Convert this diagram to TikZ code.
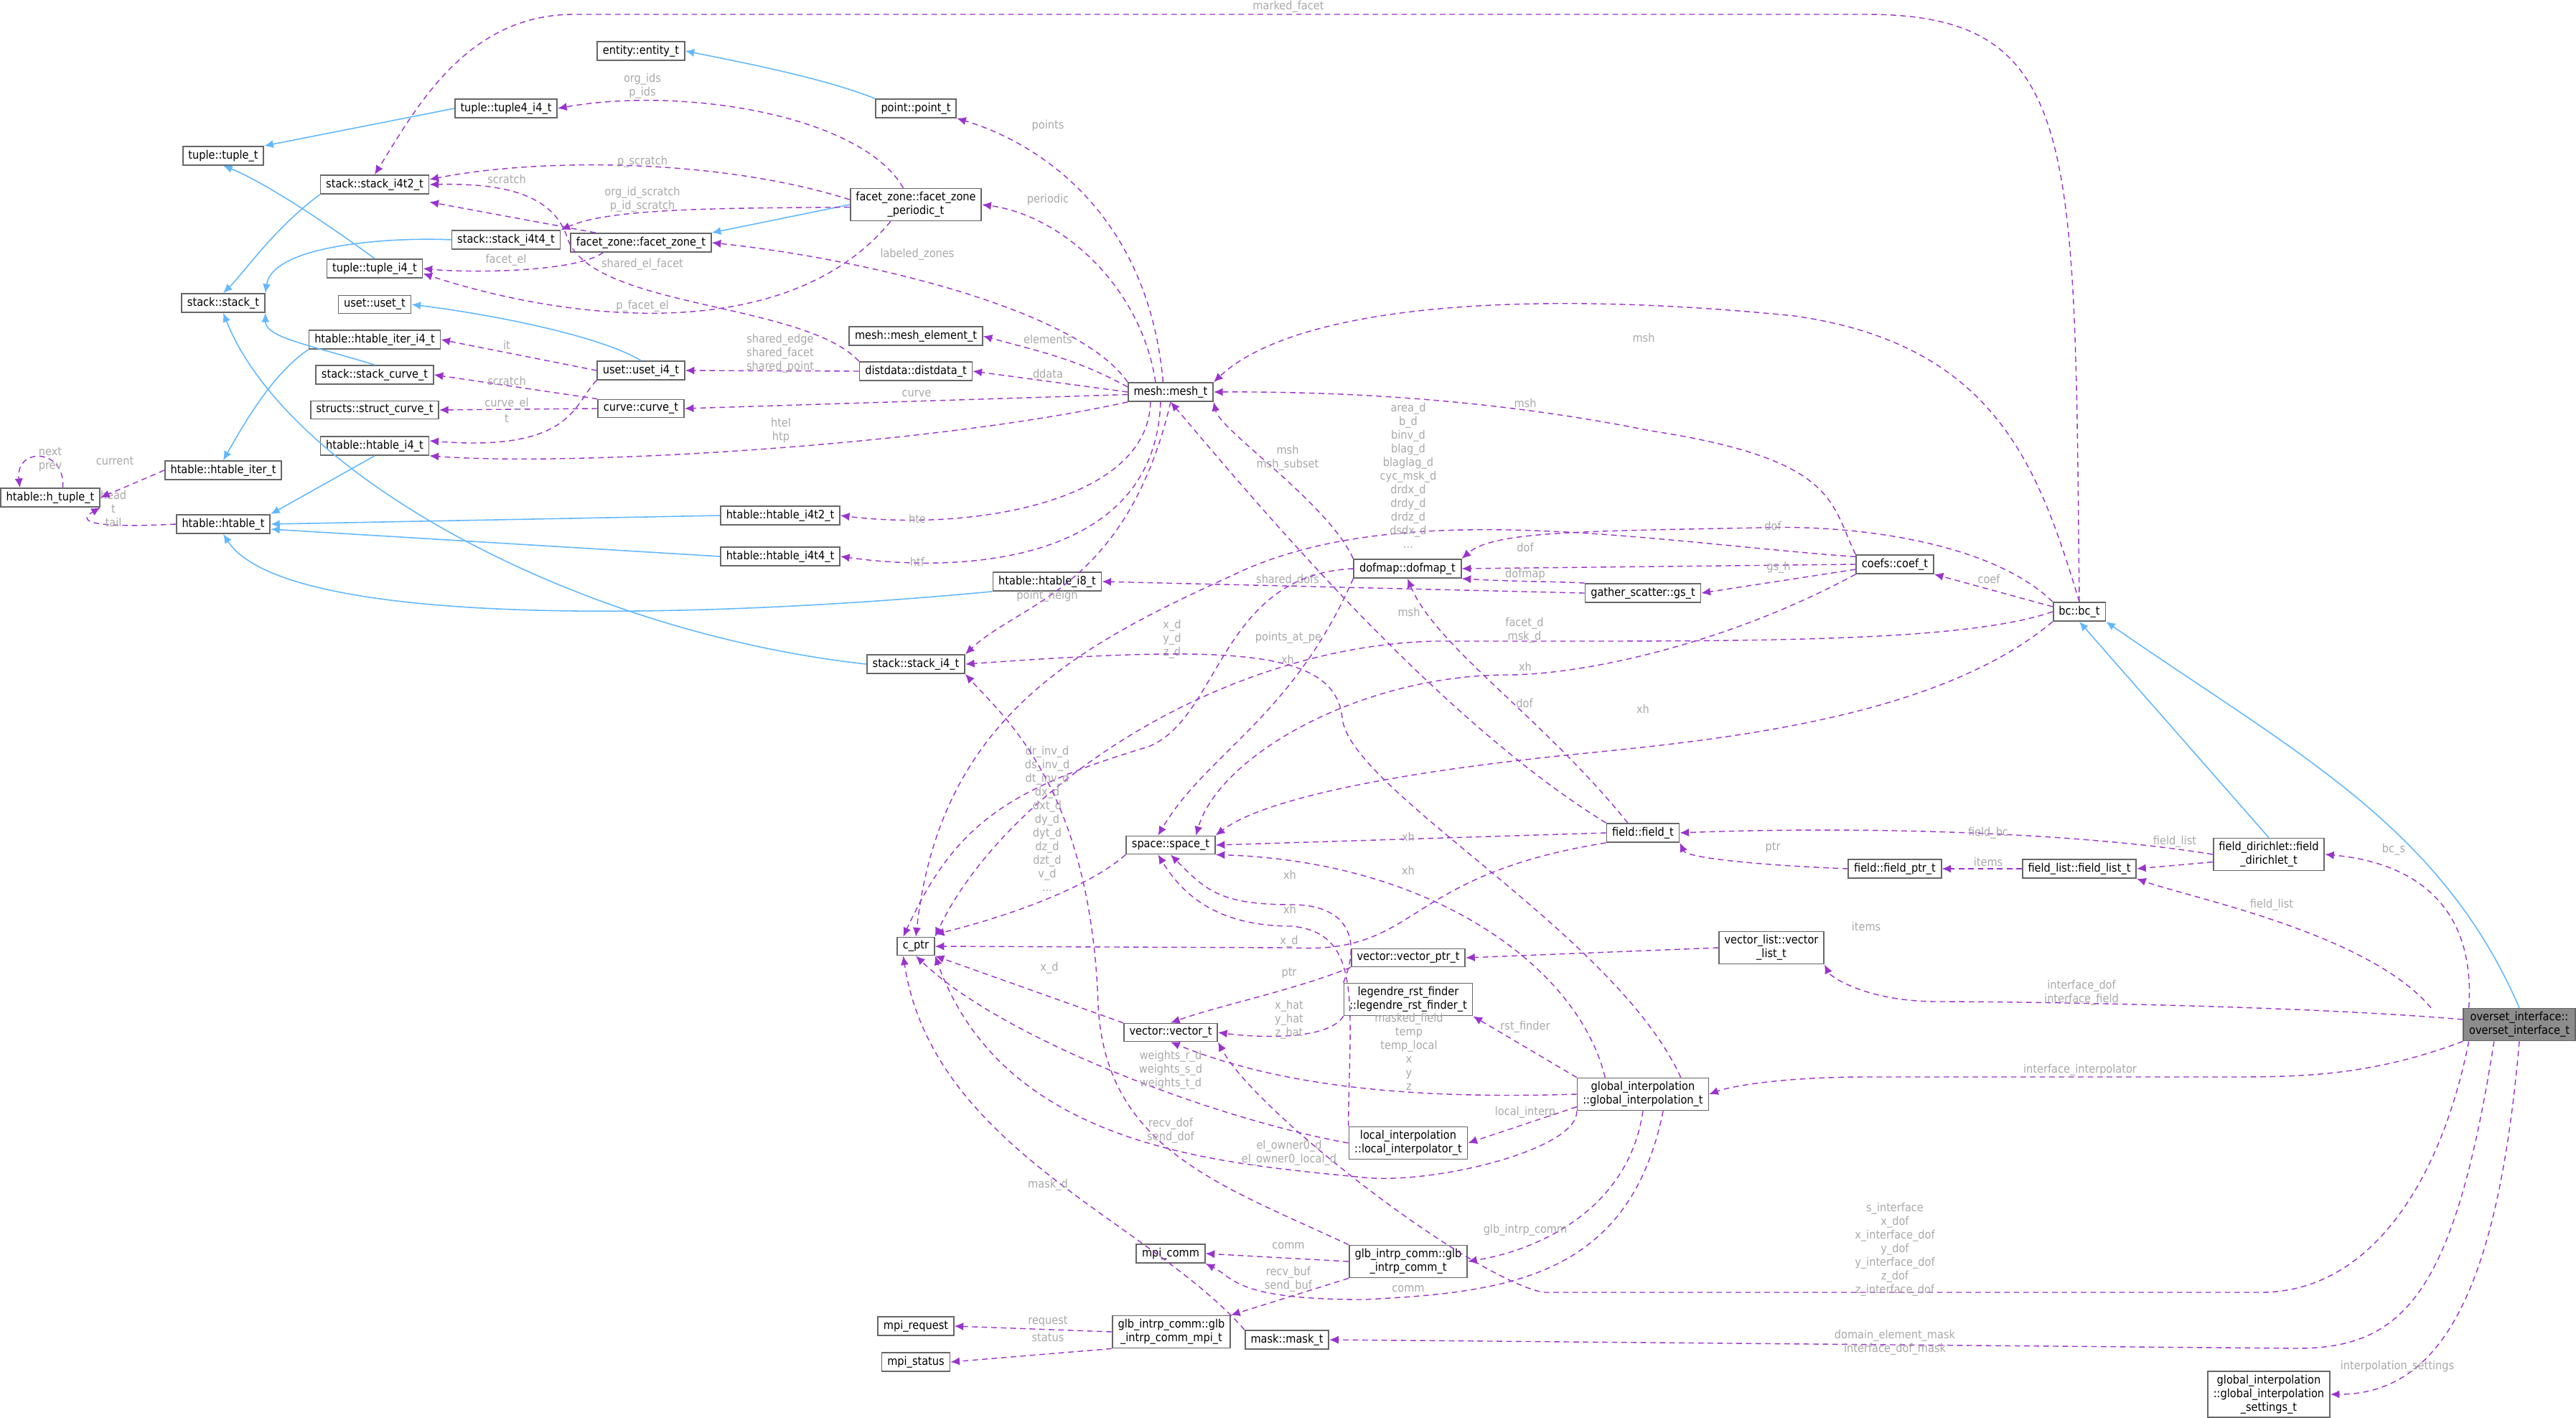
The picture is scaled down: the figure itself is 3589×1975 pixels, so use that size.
\documentclass[tikz,border=0pt]{standalone}
\usepackage{fontspec}
\setmainfont{DejaVu Sans Condensed}
\usetikzlibrary{arrows.meta}
\definecolor{mpurple}{HTML}{9A32CD}
\definecolor{mblue}{HTML}{63B8FF}
\definecolor{lblc}{HTML}{A8A8A8}
\begin{document}
\begin{tikzpicture}[x=0.01cm,y=-0.01cm,
 every node/.style={font=\fontsize{4.6}{5.4}\selectfont},
 box/.style={draw=black!60,fill=white,line width=0.5pt,inner xsep=2.2pt,inner ysep=1.4pt,minimum height=0.25cm,align=center},
 lbl/.style={text=lblc,inner sep=0pt,align=center},
 mem/.style={draw=mpurple,dashed,dash pattern=on 2.2pt off 1.6pt,line width=0.4pt,-{Latex[length=3.6pt,width=3.2pt]}},
 inh/.style={draw=mblue,line width=0.45pt,-{Latex[length=3.6pt,width=3.2pt]}}]
\useasboundingbox (0,0) rectangle (3589,1975);
% nodes
\node[box] (entity) at (893,71) {entity::entity\_t};
\node[box] (point) at (1276,151) {point::point\_t};
\node[box] (tuple4) at (705,151) {tuple::tuple4\_i4\_t};
\node[box] (tuple) at (311,217) {tuple::tuple\_t};
\node[box] (si4t2) at (522,257) {stack::stack\_i4t2\_t};
\node[box] (periodic) at (1276,285) {facet\_zone::facet\_zone\\\_periodic\_t};
\node[box] (si4t4) at (705,334) {stack::stack\_i4t4\_t};
\node[box] (facetzone) at (893,338) {facet\_zone::facet\_zone\_t};
\node[box] (tuplei4) at (522,374) {tuple::tuple\_i4\_t};
\node[box] (stack) at (311,422) {stack::stack\_t};
\node[box] (uset) at (522,424) {uset::uset\_t};
\node[box] (hiteri4) at (522,473) {htable::htable\_iter\_i4\_t};
\node[box] (meshel) at (1276,468) {mesh::mesh\_element\_t};
\node[box] (useti4) at (893,516) {uset::uset\_i4\_t};
\node[box] (distdata) at (1276,517) {distdata::distdata\_t};
\node[box] (scurve) at (522,522) {stack::stack\_curve\_t};
\node[box] (mesh) at (1631,546) {mesh::mesh\_t};
\node[box] (structcurve) at (522,571) {structs::struct\_curve\_t};
\node[box] (curve) at (893,569) {curve::curve\_t};
\node[box] (hi4) at (522,621) {htable::htable\_i4\_t};
\node[box] (hiter) at (311,655) {htable::htable\_iter\_t};
\node[box] (htuple) at (70,693) {htable::h\_tuple\_t};
\node[box] (htable) at (311,730) {htable::htable\_t};
\node[box] (hi4t2) at (1087,718) {htable::htable\_i4t2\_t};
\node[box] (hi4t4) at (1087,775) {htable::htable\_i4t4\_t};
\node[box] (dofmap) at (1961,792) {dofmap::dofmap\_t};
\node[box] (hi8) at (1459,810) {htable::htable\_i8\_t};
\node[box] (gs) at (2289,826) {gather\_scatter::gs\_t};
\node[box] (si4) at (1276,925) {stack::stack\_i4\_t};
\node[box] (coef) at (2640,786) {coefs::coef\_t};
\node[box] (bc) at (2897,852) {bc::bc\_t};
\node[box] (space) at (1631,1177) {space::space\_t};
\node[box] (field) at (2289,1160) {field::field\_t};
\node[box] (fptr) at (2640,1210) {field::field\_ptr\_t};
\node[box] (flist) at (2897,1210) {field\_list::field\_list\_t};
\node[box] (fdir) at (3161,1190) {field\_dirichlet::field\\\_dirichlet\_t};
\node[box] (vlist) at (2468,1320) {vector\_list::vector\\\_list\_t};
\node[box,fill=black!45] (overset) at (3510,1427) {overset\_interface::\\overset\_interface\_t};
\node[box] (gis) at (3161,1942) {global\_interpolation\\::global\_interpolation\\\_settings\_t};
\node[box] (cptr) at (1276,1318) {c\_ptr};
\node[box] (vptr) at (1962,1334) {vector::vector\_ptr\_t};
\node[box] (legendre) at (1962,1392) {legendre\_rst\_finder\\::legendre\_rst\_finder\_t};
\node[box] (vector) at (1631,1438) {vector::vector\_t};
\node[box] (global) at (2289,1524) {global\_interpolation\\::global\_interpolation\_t};
\node[box] (local) at (1962,1592) {local\_interpolation\\::local\_interpolator\_t};
\node[box] (mpicomm) at (1631,1746) {mpi\_comm};
\node[box] (glbcomm) at (1962,1757) {glb\_intrp\_comm::glb\\\_intrp\_comm\_t};
\node[box] (mpireq) at (1276,1847) {mpi\_request};
\node[box] (glbmpi) at (1632,1855) {glb\_intrp\_comm::glb\\\_intrp\_comm\_mpi\_t};
\node[box] (mask) at (1793,1866) {mask::mask\_t};
\node[box] (mpistat) at (1276,1897) {mpi\_status};
% inheritance
\draw[inh] (point.north west) .. controls (1150,110) and (1050,90) .. (entity.east);
\draw[inh] (tuple4.west) -- (tuple.north east);
\draw[inh] (tuplei4.north) .. controls (440,300) and (360,250) .. (tuple.south);
\draw[inh] (si4t2.south west) .. controls (380,320) and (340,380) .. (stack.north);
\draw[inh] (si4t4.west) .. controls (550,330) and (380,340) .. (stack.north east);
\draw[inh] (scurve.north) .. controls (430,480) and (370,470) .. (stack.south east);
\draw[inh] (si4.west) .. controls (800,880) and (400,660) .. (stack.south);
\draw[inh] (periodic.west) -- (facetzone.north east);
\draw[inh] (useti4.north) .. controls (840,470) and (700,440) .. (uset.east);
\draw[inh] (hi4.south) -- (htable.north east);
\draw[inh] (hi4t2.west) -- (htable.east);
\draw[inh] (hi4t4.west) -- ([yshift=-2pt]htable.east);
\draw[inh] (hi8.south west) .. controls (1000,860) and (400,880) .. (htable.south);
\draw[inh] (hiteri4.south west) .. controls (380,520) and (340,590) .. (hiter.north);
\draw[inh] (fdir.north) -- (bc.south);
\draw[inh] (overset.north) .. controls (3400,1150) and (3200,1050) .. (bc.south east);
% member relations
\draw[mem] (bc.north) .. controls (2890,200) and (2900,20) .. (2600,20) -- (800,20) .. controls (650,20) and (580,150) .. (si4t2.north);
\node[lbl] (l1) at (1795,9) {marked\_facet};
\draw[mem] ([xshift=-5pt]periodic.north) .. controls (1200,160) and (950,120) .. (tuple4.east);
\node[lbl] (l2) at (895,120) {org\_ids\\p\_ids};
\draw[mem] ([yshift=2pt]periodic.west) .. controls (1000,220) and (750,220) .. ([yshift=2pt]si4t2.east);
\node[lbl] (l3) at (895,225) {p\_scratch};
\draw[mem] ([yshift=-1pt]periodic.west) .. controls (1000,290) and (850,290) .. (si4t4.north east);
\node[lbl] (l4) at (895,278) {org\_id\_scratch\\p\_id\_scratch};
\draw[mem] ([xshift=-10pt]periodic.south) .. controls (1100,480) and (800,450) .. ([yshift=-2pt]tuplei4.east);
\node[lbl] (l5) at (895,426) {p\_facet\_el};
\draw[mem] ([xshift=-18pt]facetzone.north) -- ([yshift=-3pt]si4t2.south east);
\node[lbl] (l6) at (706,249) {scratch};
\draw[mem] (distdata.north west) .. controls (1120,420) and (820,430) .. (790,330) .. controls (770,270) and (700,255) .. (si4t2.east);
\node[lbl] (l7) at (895,368) {shared\_el\_facet};
\draw[mem] ([xshift=-15pt]facetzone.south) .. controls (800,380) and (650,380) .. (tuplei4.east);
\node[lbl] (l8) at (705,362) {facet\_el};
\draw[mem] ([xshift=-3pt]mesh.north) .. controls (1600,300) and (1450,200) .. (point.south east);
\node[lbl] (l9) at (1460,175) {points};
\draw[mem] ([xshift=-6pt]mesh.north) .. controls (1590,400) and (1480,300) .. (periodic.east);
\node[lbl] (l10) at (1460,278) {periodic};
\draw[mem] (mesh.north west) .. controls (1500,430) and (1200,360) .. (facetzone.east);
\node[lbl] (l11) at (1278,354) {labeled\_zones};
\draw[mem] ([yshift=2pt]mesh.west) .. controls (1500,500) and (1450,490) .. (meshel.east);
\node[lbl] (l12) at (1460,472) {elements};
\draw[mem] (mesh.west) -- (distdata.east);
\node[lbl] (l13) at (1460,520) {ddata};
\draw[mem] ([yshift=-1pt]mesh.west) -- (curve.east);
\node[lbl] (l14) at (1277,548) {curve};
\draw[mem] (mesh.south west) .. controls (1300,620) and (800,650) .. (hi4.south east);
\node[lbl] (l15) at (1088,600) {htel\\htp};
\draw[mem] ([xshift=-8pt]mesh.south) .. controls (1600,700) and (1350,740) .. (hi4t2.east);
\node[lbl] (l16) at (1278,722) {hte};
\draw[mem] ([xshift=-4pt]mesh.south) .. controls (1610,780) and (1350,800) .. (hi4t4.east);
\node[lbl] (l17) at (1278,782) {htf};
\draw[mem] (mesh.south) .. controls (1570,820) and (1420,840) .. (si4.north east);
\node[lbl] (l18) at (1459,830) {point\_neigh};
\draw[mem] (useti4.west) -- (hiteri4.east);
\node[lbl] (l19) at (706,480) {it};
\draw[mem] (useti4.south west) .. controls (800,560) and (800,630) .. ([yshift=2pt]hi4.east);
\node[lbl] (l20) at (706,583) {t};
\draw[mem] (distdata.west) -- (useti4.east);
\node[lbl] (l21) at (1087,492) {shared\_edge\\shared\_facet\\shared\_point};
\draw[mem] (curve.north west) -- (scurve.east);
\node[lbl] (l22) at (706,530) {scratch};
\draw[mem] (curve.west) -- (structcurve.east);
\node[lbl] (l23) at (706,562) {curve\_el};
\draw[mem] (htable.west) .. controls (150,735) and (100,730) .. (htuple.south east);
\node[lbl] (l24) at (158,708) {head\\t\\tail};
\draw[mem] (hiter.west) -- (htuple.east);
\node[lbl] (l25) at (160,642) {current};
\draw[mem] ([xshift=5pt]htuple.north) .. controls ([xshift=6pt,yshift=16pt]htuple.north) and ([xshift=-14pt,yshift=16pt]htuple.north) .. ([xshift=-12pt]htuple.north);
\node[lbl] (l26) at (70,640) {next\\prev};
\draw[mem] (dofmap.north west) .. controls (1850,700) and (1700,600) .. (mesh.south east);
\node[lbl] (l27) at (1794,638) {msh\\msh\_subset};
\draw[mem] (gs.north west) .. controls (2180,810) and (2100,810) .. (dofmap.south east);
\node[lbl] (l28) at (2125,800) {dofmap};
\draw[mem] (gs.west) -- (hi8.east);
\node[lbl] (l29) at (1794,808) {shared\_dofs};
\draw[mem] (coef.west) -- (dofmap.east);
\node[lbl] (l30) at (2125,762) {dof};
\draw[mem] ([yshift=-2pt]coef.west) -- (gs.east);
\node[lbl] (l31) at (2478,790) {gs\_h};
\draw[mem] (coef.north west) .. controls (2550,700) and (2560,640) .. (2300,600) .. controls (2100,560) and (1900,545) .. (mesh.east);
\node[lbl] (l32) at (2125,561) {msh};
\draw[mem] ([yshift=3pt]coef.west) .. controls (2300,755) and (1950,690) .. (1720,800) .. controls (1500,900) and (1310,1000) .. (cptr.north);
\node[lbl] (l33) at (1962,662) {area\_d\\b\_d\\binv\_d\\blag\_d\\blaglag\_d\\cyc\_msk\_d\\drdx\_d\\drdy\_d\\drdz\_d\\dsdx\_d\\...};
\draw[mem] (coef.south west) .. controls (2400,900) and (2200,940) .. (2100,940) .. controls (1900,940) and (1700,1050) .. ([xshift=10pt]space.north);
\node[lbl] (l34) at (2125,928) {xh};
\draw[mem] (bc.north) .. controls (2840,650) and (2780,480) .. (2500,440) .. controls (2100,400) and (1800,430) .. (mesh.north east);
\node[lbl] (l35) at (2290,470) {msh};
\draw[mem] (bc.north west) .. controls (2780,760) and (2600,730) .. (2450,735) .. controls (2200,740) and (2080,740) .. (dofmap.north east);
\node[lbl] (l36) at (2470,732) {dof};
\draw[mem] ([yshift=2pt]bc.west) -- (coef.south east);
\node[lbl] (l37) at (2771,806) {coef};
\draw[mem] (bc.west) .. controls (2750,890) and (2500,893) .. (2200,893) -- (2000,893) .. controls (1700,900) and (1400,1100) .. (cptr.north east);
\node[lbl] (l38) at (2124,878) {facet\_d\\msk\_d};
\draw[mem] (bc.south west) .. controls (2700,1000) and (2400,1030) .. (2200,1050) .. controls (1900,1080) and (1750,1120) .. (space.north east);
\node[lbl] (l39) at (2289,987) {xh};
\draw[mem] ([xshift=-6pt]field.north) .. controls (2150,1000) and (2000,900) .. (dofmap.south);
\node[lbl] (l40) at (2124,979) {dof};
\draw[mem] (field.north west) .. controls (2000,1000) and (1750,700) .. (mesh.south);
\node[lbl] (l41) at (1963,852) {msh};
\draw[mem] (field.west) -- (space.east);
\node[lbl] (l42) at (1962,1165) {xh};
\draw[mem] (field.south west) .. controls (1950,1220) and (1980,1330) .. (1800,1320) -- (cptr.east);
\node[lbl] (l43) at (1796,1311) {x\_d};
\draw[mem] (dofmap.south west) .. controls (1800,1000) and (1680,1050) .. ([xshift=-5pt]space.north);
\node[lbl] (l44) at (1794,918) {xh};
\draw[mem] (dofmap.west) .. controls (1700,800) and (1700,1000) .. (1600,1040) .. controls (1400,1100) and (1330,1150) .. ([xshift=-5pt]cptr.north);
\node[lbl] (l45) at (1633,890) {x\_d\\y\_d\\z\_d};
\draw[mem] (space.south west) .. controls (1500,1250) and (1350,1290) .. ([yshift=1pt]cptr.north east);
\node[lbl] (l46) at (1459,1140) {dr\_inv\_d\\ds\_inv\_d\\dt\_inv\_d\\dx\_d\\dxt\_d\\dy\_d\\dyt\_d\\dz\_d\\dzt\_d\\v\_d\\...};
\draw[mem] (fptr.west) .. controls (2450,1205) and (2350,1195) .. (field.south east);
\node[lbl] (l47) at (2470,1180) {ptr};
\draw[mem] (flist.west) -- (fptr.east);
\node[lbl] (l48) at (2770,1200) {items};
\draw[mem] (fdir.west) .. controls (2900,1160) and (2600,1150) .. (field.east);
\node[lbl] (l49) at (2770,1160) {field\_bc};
\draw[mem] ([yshift=-3pt]fdir.west) -- (flist.east);
\node[lbl] (l50) at (3030,1172) {field\_list};
\draw[mem] ([xshift=-20pt]overset.north) .. controls (3450,1250) and (3350,1200) .. (fdir.east);
\node[lbl] (l51) at (3335,1183) {bc\_s};
\draw[mem] ([xshift=-35pt]overset.north) .. controls (3300,1300) and (3050,1250) .. (flist.south east);
\node[lbl] (l52) at (3165,1260) {field\_list};
\draw[mem] ([yshift=2pt]overset.west) .. controls (3200,1400) and (2800,1395) .. (2700,1395) .. controls (2600,1395) and (2550,1360) .. (vlist.south east);
\node[lbl] (l53) at (2900,1383) {interface\_dof\\interface\_field};
\draw[mem] (overset.south west) .. controls (3300,1500) and (3200,1500) .. (3100,1500) -- (2600,1500) .. controls (2500,1500) and (2420,1510) .. (global.east);
\node[lbl] (l54) at (2898,1490) {interface\_interpolator};
\draw[mem] ([xshift=-20pt]overset.south) .. controls (3400,1650) and (3300,1800) .. (3150,1800) -- (2150,1800) .. controls (2050,1780) and (1750,1550) .. (vector.south east);
\node[lbl] (l55) at (2640,1740) {s\_interface\\x\_dof\\x\_interface\_dof\\y\_dof\\y\_interface\_dof\\z\_dof\\z\_interface\_dof};
\draw[mem] ([xshift=-10pt]overset.south) .. controls (3420,1800) and (3350,1878) .. (3200,1878) -- (mask.east);
\node[lbl] (l56) at (2640,1870) {domain\_element\_mask\\interface\_dof\_mask};
\draw[mem] (overset.south) .. controls (3480,1800) and (3400,1942) .. (gis.east);
\node[lbl] (l57) at (3340,1903) {interpolation\_settings};
\draw[mem] (vlist.west) -- (vptr.east);
\node[lbl] (l58) at (2600,1290) {items};
\draw[mem] (vptr.south west) .. controls (1800,1380) and (1700,1400) .. (vector.north);
\node[lbl] (l59) at (1796,1355) {ptr};
\draw[mem] (vector.north west) -- (cptr.south east);
\node[lbl] (l60) at (1462,1348) {x\_d};
\draw[mem] (legendre.south west) .. controls (1850,1450) and (1750,1445) .. (vector.east);
\node[lbl] (l61) at (1796,1420) {x\_hat\\y\_hat\\z\_hat};
\draw[mem] (legendre.north west) .. controls (1900,1300) and (1870,1260) .. (1800,1260) .. controls (1700,1260) and (1680,1240) .. (space.south);
\node[lbl] (l62) at (1797,1218) {xh};
\draw[mem] (global.north west) -- (legendre.south east);
\node[lbl] (l63) at (2125,1430) {rst\_finder};
\draw[mem] (global.west) .. controls (2000,1530) and (1800,1520) .. (vector.south);
\node[lbl] (l64) at (1963,1465) {masked\_field\\temp\\temp\_local\\x\\y\\z};
\draw[mem] ([yshift=-5pt]global.west) -- (local.east);
\node[lbl] (l65) at (2125,1549) {local\_interp};
\draw[mem] (global.south west) .. controls (2200,1600) and (2000,1650) .. (1900,1640) .. controls (1700,1620) and (1400,1600) .. (cptr.south east);
\node[lbl] (l66) at (1796,1606) {el\_owner0\_d\\el\_owner0\_local\_d};
\draw[mem] (global.south) .. controls (2270,1680) and (2150,1740) .. (glbcomm.east);
\node[lbl] (l67) at (2125,1713) {glb\_intrp\_comm};
\draw[mem] ([xshift=8pt]global.south) .. controls (2270,1780) and (2100,1800) .. (1900,1810) .. controls (1720,1810) and (1720,1780) .. (mpicomm.south east);
\node[lbl] (l68) at (1962,1795) {comm};
\draw[mem] ([xshift=-15pt]global.north) .. controls (2200,1350) and (2000,1200) .. (space.south east);
\node[lbl] (l69) at (1962,1212) {xh};
\draw[mem] ([xshift=15pt]global.north) .. controls (2250,1300) and (1880,1100) .. (1870,1000) .. controls (1860,900) and (1700,900) .. (si4.east);
\node[lbl] (l70) at (1795,888) {points\_at\_pe};
\draw[mem] (local.west) .. controls (1700,1560) and (1400,1450) .. (cptr.south);
\node[lbl] (l71) at (1631,1490) {weights\_r\_d\\weights\_s\_d\\weights\_t\_d};
\draw[mem] (local.north west) .. controls (1880,1400) and (1900,1300) .. (1800,1290) .. controls (1700,1290) and (1650,1250) .. ([xshift=-5pt]space.south);
\node[lbl] (l72) at (1797,1266) {xh};
\draw[mem] (glbcomm.west) -- (mpicomm.east);
\node[lbl] (l73) at (1795,1735) {comm};
\draw[mem] (glbcomm.south west) -- (glbmpi.north east);
\node[lbl] (l74) at (1795,1782) {recv\_buf\\send\_buf};
\draw[mem] (glbcomm.north west) .. controls (1700,1650) and (1540,1600) .. (1530,1400) .. controls (1520,1100) and (1400,1000) .. (si4.south east);
\node[lbl] (l75) at (1631,1575) {recv\_dof\\send\_dof};
\draw[mem] (glbmpi.west) -- (mpireq.east);
\node[lbl] (l76) at (1460,1840) {request};
\draw[mem] (glbmpi.south west) -- (mpistat.east);
\node[lbl] (l77) at (1460,1863) {status};
\draw[mem] (mask.north west) .. controls (1600,1700) and (1300,1600) .. ([xshift=-5pt]cptr.south);
\node[lbl] (l78) at (1460,1650) {mask\_d};
\end{tikzpicture}
\end{document}
